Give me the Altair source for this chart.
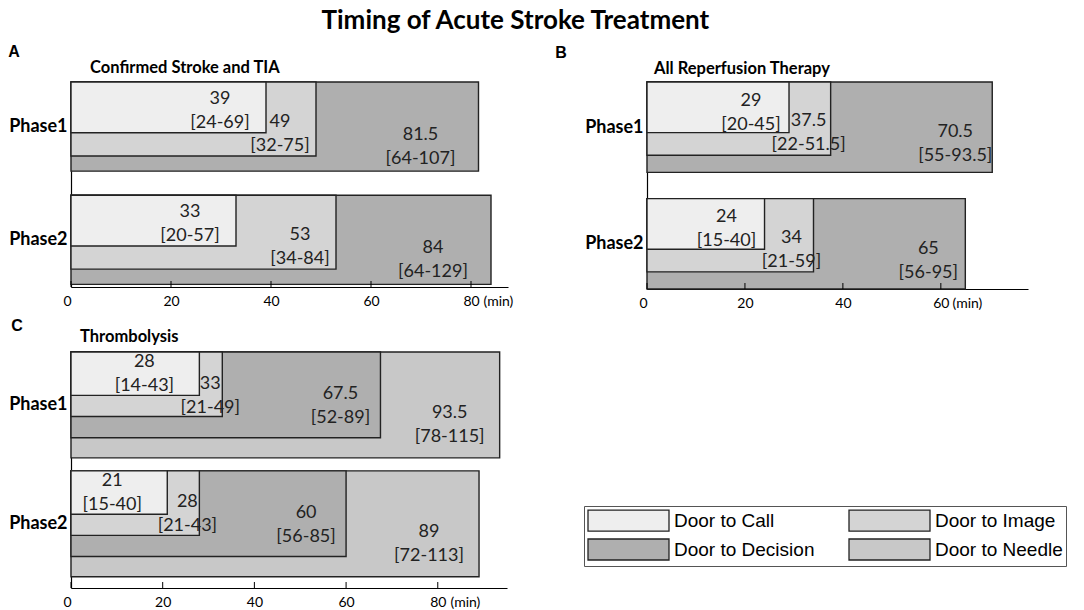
import altair as alt
import pandas as pd

# ---------------- data ----------------
SERIES = ["Door to Call", "Door to Image", "Door to Decision", "Door to Needle"]
PHASES = ["Phase1", "Phase2"]

A_MED_P1 = [39, 49, 81.5]
A_IQR_P1 = ["[24-69]", "[32-75]", "[64-107]"]
A_MED_P2 = [33, 53, 84]
A_IQR_P2 = ["[20-57]", "[34-84]", "[64-129]"]

B_MED_P1 = [29, 37.5, 70.5]
B_IQR_P1 = ["[20-45]", "[22-51.5]", "[55-93.5]"]
B_MED_P2 = [24, 34, 65]
B_IQR_P2 = ["[15-40]", "[21-59]", "[56-95]"]

C_MED_P1 = [28, 33, 67.5, 93.5]
C_IQR_P1 = ["[14-43]", "[21-49]", "[52-89]", "[78-115]"]
C_MED_P2 = [21, 28, 60, 89]
C_IQR_P2 = ["[15-40]", "[21-43]", "[56-85]", "[72-113]"]

A_TICKS = [0, 20, 40, 60, 80]
B_TICKS = [0, 20, 40, 60]
C_TICKS = [0, 20, 40, 60, 80]

LETTERS = ["A", "B", "C"]
SUBTITLES = ["Confirmed Stroke and TIA", "All Reperfusion Therapy", "Thrombolysis"]
TITLE = "Timing of Acute Stroke Treatment"
UNIT = "(min)"

# ---------------- styles / layout ----------------
COLORS = ["#eeeeee", "#d4d4d4", "#afafaf", "#c8c8c8"]
FONT = "Lato"
RECT_PATH = "M-3.857,-1H3.857V1H-3.857Z"
# legend fills column-major with two columns
LEGEND_ORDER = [SERIES[0], SERIES[2], SERIES[1], SERIES[3]]

LAYOUT = {
    "A": dict(width=437, height=205, xmax=87.4, pitch=1.27, total=2.30,
              fracs=[0.57, 0.83, 1.0], letter=(-57, -30), sub=(19, -14),
              unitx=412, dx=[-46, -36, -58], lift=[10, 10, 12]),
    "B": dict(width=381, height=207, xmax=77.8, pitch=1.29, total=2.29,
              fracs=[0.56, 0.81, 1.0], letter=(-86, -29), sub=(7, -13),
              unitx=305, dx=[-38, -22, -37], lift=[8, 10, 16]),
    "C": dict(width=436, height=236, xmax=95.1, pitch=1.123, total=2.23,
              fracs=[0.41, 0.61, 0.81, 1.0], letter=(-54, -26), sub=(9, -15),
              unitx=379, dx=[-55, -12, -40, -50], lift=[9, 9, 20, 21]),
}
LINE_GAP = 24

fill_scale = alt.Scale(domain=SERIES, range=COLORS)
legend = alt.Legend(
    title=None, orient="none", legendX=513, legendY=424, columns=2,
    values=LEGEND_ORDER,
    symbolType=RECT_PATH, symbolSize=441, symbolOffset=30, labelOffset=34,
    symbolStrokeColor="#222222", symbolStrokeWidth=1.3, symbolOpacity=1,
    labelFont="Liberation Sans", labelFontSize=19, labelColor="black",
    labelLimit=400, strokeColor="#555555", padding=3, rowPadding=2,
    columnPadding=31,
)


def fmt(v):
    return f"{v:g}"


def panel(key, letter, subtitle, meds, iqrs, ticks):
    L = LAYOUT[key]
    rows = []
    for pi, phase in enumerate(PHASES):
        n = len(meds[pi])
        for si in reversed(range(n)):
            rows.append(dict(
                phase=phase, series=SERIES[si], value=meds[pi][si],
                med=fmt(meds[pi][si]), iqr=iqrs[pi][si],
                top=pi * L["pitch"], bottom=pi * L["pitch"] + L["fracs"][si],
            ))
    df = pd.DataFrame(rows)
    W, H = L["width"], L["height"]

    xs = alt.Scale(domain=[0, L["xmax"]], nice=False, zero=True)
    ys = alt.Scale(domain=[0, L["total"]], nice=False, zero=False, reverse=True)

    phase_js = "[" + ",".join(f"'{p}'" for p in PHASES) + "]"
    yaxis = alt.Axis(
        values=[pi * L["pitch"] + 0.5 for pi in range(len(PHASES))],
        labelExpr=f"{phase_js}[round((datum.value - 0.5) / {L['pitch']})]",
        ticks=False, grid=False, domainColor="black", domainWidth=1.2,
        labelFont=FONT, labelFontWeight="bold", labelFontSize=18,
        labelColor="black", labelPadding=4, title=None,
    )
    xaxis = alt.Axis(
        values=ticks, tickSize=0, grid=False, domainColor="black",
        domainWidth=1.2, labelFont=FONT, labelFontSize=14, labelColor="black",
        labelPadding=7,
        labelAlign={"condition": {"test": "datum.value === 0", "value": "right"},
                    "value": "center"},
        title=UNIT, titleX=L["unitx"], titleY=14, titleAlign="left",
        titleBaseline="middle", titleFont=FONT, titleFontSize=14,
        titleFontWeight="normal", titleColor="black", titleAngle=0,
    )

    base = alt.Chart(df)
    bars = base.transform_calculate(start="0").mark_rect(
        stroke="#222222", strokeWidth=1.4
    ).encode(
        x=alt.X("start:Q", scale=xs, axis=xaxis),
        x2="value:Q",
        y=alt.Y("top:Q", scale=ys, axis=yaxis),
        y2="bottom:Q",
        fill=alt.Fill("series:N", scale=fill_scale, legend=legend),
    )

    layers = [bars]
    for si in range(len(meds[0])):
        sub = base.transform_filter(alt.datum.series == SERIES[si])
        lift = L["lift"][si]
        for field, dy in (("med", -lift - LINE_GAP), ("iqr", -lift)):
            layers.append(
                sub.mark_text(font=FONT, fontSize=18, color="#222222",
                              align="center", baseline="middle",
                              dx=L["dx"][si], dy=dy)
                .encode(x=alt.X("value:Q", scale=xs),
                        y=alt.Y("bottom:Q", scale=ys),
                        text=alt.Text(f"{field}:N"))
            )

    tick_rules = alt.Chart(pd.DataFrame({"t": ticks})).mark_rule(
        color="black", strokeWidth=1
    ).encode(x=alt.X("t:Q", scale=xs), y=alt.value(H - 6), y2=alt.value(H))
    layers.append(tick_rules)

    lab = alt.Chart(pd.DataFrame({"s": [letter]})).mark_text(
        font="Liberation Sans", fontWeight="bold", fontSize=16,
        align="center", baseline="middle", color="black",
    ).encode(x=alt.value(L["letter"][0]), y=alt.value(L["letter"][1]),
             text="s:N")
    st = alt.Chart(pd.DataFrame({"s": [subtitle]})).mark_text(
        font=FONT, fontWeight="bold", fontSize=16.5, align="left",
        baseline="middle", color="black",
    ).encode(x=alt.value(L["sub"][0]), y=alt.value(L["sub"][1]), text="s:N")
    layers += [lab, st]

    return alt.layer(*layers).properties(width=W, height=H)


pa = panel("A", LETTERS[0], SUBTITLES[0], [A_MED_P1, A_MED_P2],
           [A_IQR_P1, A_IQR_P2], A_TICKS)
pb = panel("B", LETTERS[1], SUBTITLES[1], [B_MED_P1, B_MED_P2],
           [B_IQR_P1, B_IQR_P2], B_TICKS)
pc = panel("C", LETTERS[2], SUBTITLES[2], [C_MED_P1, C_MED_P2],
           [C_IQR_P1, C_IQR_P2], C_TICKS)

top = alt.hconcat(pa, pb, spacing=42).resolve_scale(
    x="independent", y="independent", fill="shared")
chart = alt.vconcat(top, pc, spacing=8).resolve_scale(
    x="independent", y="independent", fill="shared"
).properties(
    padding=0,
    title=alt.TitleParams(TITLE, font=FONT, fontSize=26, fontWeight="bold",
                          anchor="middle", color="black", offset=10, dx=-22),
).configure_view(stroke=None)

chart.save("out.html", embed_options={"renderer": "svg", "actions": False})
